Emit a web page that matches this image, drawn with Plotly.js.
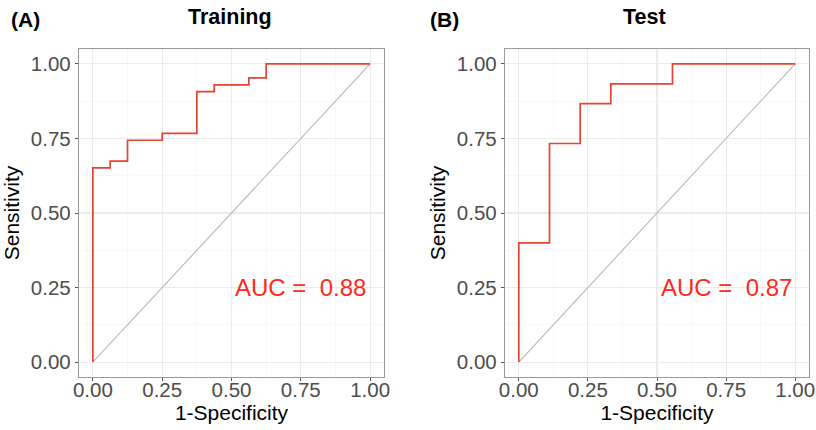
<!DOCTYPE html>
<html>
<head>
<meta charset="utf-8">
<script src="https://cdn.plot.ly/plotly-3.0.1.min.js"></script>
<style>html,body{margin:0;padding:0;background:#fff;}#chart{width:816px;height:430px;}</style>
</head>
<body>
<div id="chart"></div>
<script>
// Training ROC (1-Specificity vs Sensitivity), step points
const trainFPR = [0, 0, 0.0625, 0.125, 0.25, 0.375, 0.4375, 0.5625, 0.625, 1];
const trainTPR = [0, 0.651, 0.674, 0.744, 0.767, 0.907, 0.930, 0.953, 1, 1];
// Test ROC
const testFPR = [0, 0, 0.111, 0.222, 0.333, 0.556, 1];
const testTPR = [0, 0.400, 0.733, 0.867, 0.933, 1, 1];
// Reference diagonal
const diagX = [0, 1];
const diagY = [0, 1];
const tickVals = [0, 0.25, 0.5, 0.75, 1];
const tickText = ["0.00", "0.25", "0.50", "0.75", "1.00"];
const panelTitles = ["Training", "Test"];
const panelTags = ["(A)", "(B)"];
const aucLabels = ["AUC = \u00a00.88", "AUC = \u00a00.87"];

const W = 816, H = 430;
const px = x => x / W;
const py = y => 1 - y / H;

const font = "Arial, 'Liberation Sans', Helvetica, sans-serif";
const lineRed = "#E8432F";
const textRed = "#FF2A1A";

const traces = [
  {x: diagX, y: diagY, xaxis: "x", yaxis: "y", mode: "lines", line: {color: "#b8b8b8", width: 1.1}, hoverinfo: "skip"},
  {x: trainFPR, y: trainTPR, xaxis: "x", yaxis: "y", mode: "lines", line: {color: lineRed, width: 1.7, shape: "hv"}},
  {x: diagX, y: diagY, xaxis: "x2", yaxis: "y2", mode: "lines", line: {color: "#b8b8b8", width: 1.1}, hoverinfo: "skip"},
  {x: testFPR, y: testTPR, xaxis: "x2", yaxis: "y2", mode: "lines", line: {color: lineRed, width: 1.7, shape: "hv"}}
];

function xAxis(domain, anchor) {
  return {
    domain: domain, anchor: anchor, range: [-0.05, 1.05], fixedrange: true,
    tickvals: tickVals, ticktext: tickText,
    ticks: "outside", ticklen: 3, tickcolor: "#555", tickwidth: 1,
    ticklabelstandoff: -9, ticklabeloverflow: "allow",
    tickfont: {family: font, size: 20.5, color: "#4d4d4d"},
    showgrid: true, gridcolor: "#ebebeb", gridwidth: 1.1,
    minor: {dtick: 0.125, tick0: 0.125, showgrid: true, gridcolor: "#f4f4f4", gridwidth: 0.6, ticks: ""},
    zeroline: false, showline: true, mirror: true, linecolor: "#9a9a9a", linewidth: 1.2,
    title: {text: "1-Specificity", font: {family: font, size: 21, color: "#000"}, standoff: 2},
    automargin: false
  };
}
function yAxis(domain, anchor) {
  return {
    domain: domain, anchor: anchor, range: [-0.05, 1.05], fixedrange: true,
    tickvals: tickVals, ticktext: tickText,
    ticks: "outside", ticklen: 3, tickcolor: "#555", tickwidth: 1,
    tickfont: {family: font, size: 20.5, color: "#4d4d4d"},
    showgrid: true, gridcolor: "#ebebeb", gridwidth: 1.1,
    minor: {dtick: 0.125, tick0: 0.125, showgrid: true, gridcolor: "#f4f4f4", gridwidth: 0.6, ticks: ""},
    zeroline: false, showline: true, mirror: true, linecolor: "#9a9a9a", linewidth: 1.2,
    title: {text: "Sensitivity", font: {family: font, size: 21, color: "#000"}, standoff: 5},
    automargin: false
  };
}

const yDom = [py(377), py(49)];
const ann = (x, y, text, size, color) => ({xref: "paper", yref: "paper", x: px(x), y: py(y), xanchor: "center", yanchor: "middle", text: text, showarrow: false, font: {family: font, size: size, color: color}});
const layout = {
  width: W, height: H,
  margin: {l: 0, r: 0, t: 0, b: 0},
  paper_bgcolor: "#fff", plot_bgcolor: "#fff",
  showlegend: false,
  xaxis: xAxis([px(79), px(384)], "y"),
  yaxis: yAxis(yDom, "x"),
  xaxis2: xAxis([px(505), px(809)], "y2"),
  yaxis2: yAxis(yDom, "x2"),
  annotations: [
    ann(25, 20, "<b>" + panelTags[0] + "</b>", 21, "#000"),
    ann(230, 17, "<b>" + panelTitles[0] + "</b>", 21.5, "#000"),
    ann(445, 20, "<b>" + panelTags[1] + "</b>", 21, "#000"),
    ann(644, 17, "<b>" + panelTitles[1] + "</b>", 21.5, "#000"),
    {xref: "x", yref: "y", x: 0.75, y: 0.25, text: aucLabels[0], showarrow: false, xanchor: "center", yanchor: "middle", font: {family: font, size: 24, color: textRed}},
    {xref: "x2", yref: "y2", x: 0.75, y: 0.25, text: aucLabels[1], showarrow: false, xanchor: "center", yanchor: "middle", font: {family: font, size: 24, color: textRed}}
  ]
};

Plotly.newPlot("chart", traces, layout, {staticPlot: true, displayModeBar: false});
</script>
</body>
</html>
